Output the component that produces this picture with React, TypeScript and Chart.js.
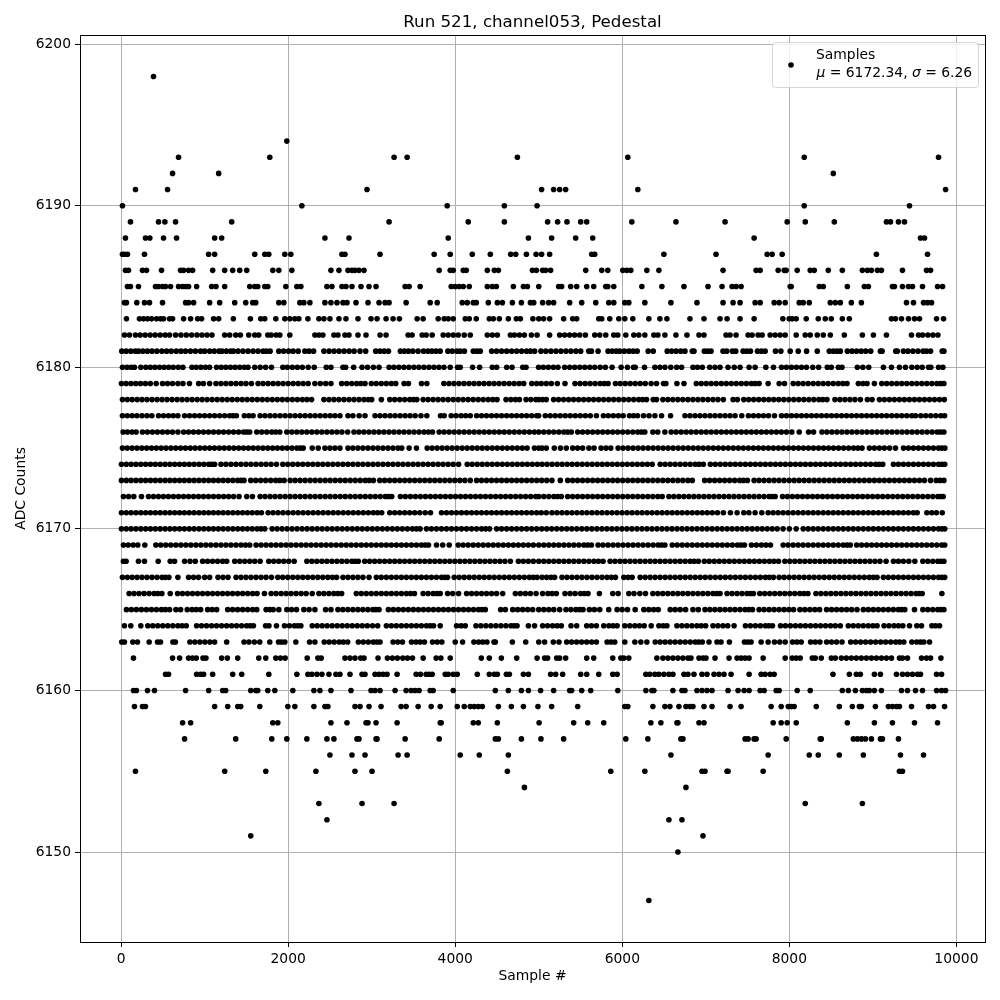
import React, { useEffect, useRef } from "react";
import { Chart, registerables } from "chart.js";

Chart.register(...registerables);

const titleText = "Run 521, channel053, Pedestal";
const xLabel = "Sample #";
const yLabel = "ADC Counts";
const xTicks = [0, 2000, 4000, 6000, 8000, 10000];
const yTicks = [6150, 6160, 6170, 6180, 6190, 6200];
const legendName = "Samples";
const legendMean = "6172.34";
const legendSigma = "6.26";

const s6198 = [388];
const s6194 = [1984];
const s6193 = [688, 1780, 3268, 3424, 4744, 6066, 8178, 9786];
const s6192 = [616, 1168, 8526];
const s6191 = [172, 556, 2944, 5034, 5178, 5250, 5322, 6186, 9870];
const s6190 = [16, 2164, 3904, 4588, 4980, 8178, 9438];
const s6189 = [112, 448, 524, 652, 1324, 3208, 4156, 4588, 5106, 5226, 5338, 5502, 5574, 6114, 6642, 7230, 7974, 8190, 8538, 9162, 9210, 9306, 9378];
const s6188 = [52, 292, 344, 508, 664, 1120, 1204, 2440, 2728, 3916, 4876, 5154, 5442, 5646, 7578, 9570, 9618];
const s6187 = [16, 40, 76, 280, 1048, 1120, 1600, 1720, 1768, 1960, 2032, 2644, 2680, 3100, 3748, 3940, 4204, 4420, 4664, 4724, 4852, 4968, 5034, 5130, 5634, 5670, 6498, 7122, 7734, 7794, 7914, 9042, 9654];
const s6186 = [52, 88, 256, 304, 484, 712, 748, 808, 856, 1096, 1240, 1336, 1420, 1504, 1816, 1888, 2044, 2512, 2608, 2716, 2764, 2800, 2848, 2908, 3808, 3940, 3976, 4096, 4132, 4384, 4468, 4516, 4924, 4972, 5046, 5082, 5142, 5562, 5754, 5826, 6006, 6054, 6102, 6294, 6438, 7206, 7602, 7650, 7866, 7938, 7962, 8094, 8250, 8298, 8466, 8634, 8874, 8934, 8982, 9054, 9102, 9354, 9642, 9690];
const s6185 = [76, 112, 208, 412, 448, 496, 532, 592, 688, 736, 772, 808, 904, 1084, 1136, 1240, 1540, 1600, 1636, 1720, 1756, 1972, 2104, 2152, 2464, 2524, 2644, 2692, 2764, 2872, 2968, 3052, 3400, 3448, 3580, 3952, 4000, 4048, 4096, 4168, 4384, 4444, 4492, 4696, 4816, 4864, 5000, 5238, 5274, 5382, 5454, 5574, 5658, 5802, 5826, 5898, 6234, 6474, 6738, 7026, 7194, 7314, 7362, 7422, 8010, 8022, 8358, 8406, 8694, 8898, 8946, 9234, 9258, 9354, 9426, 9474, 9594, 9774, 9834];
const s6184 = [40, 64, 188, 280, 340, 496, 772, 808, 868, 1060, 1180, 1360, 1492, 1576, 1612, 1888, 1948, 2140, 2188, 2260, 2440, 2512, 2584, 2656, 2704, 2812, 2956, 3088, 3160, 3208, 3412, 3700, 3784, 4084, 4144, 4216, 4252, 4396, 4504, 4564, 4684, 4792, 4900, 4940, 5046, 5118, 5178, 5370, 5514, 5682, 5838, 5898, 6030, 6078, 6270, 6582, 6894, 7206, 7326, 7410, 7590, 7650, 7818, 7878, 7950, 8118, 8166, 8238, 8490, 8550, 8610, 8742, 8862, 9402, 9486, 9606, 9654, 9702];
const s6183 = [64, 220, 268, 316, 364, 424, 472, 508, 580, 616, 748, 832, 916, 964, 1108, 1168, 1344, 1548, 1672, 1720, 1852, 1960, 2020, 2080, 2128, 2236, 2368, 2428, 2500, 2608, 2692, 2836, 2992, 3064, 3172, 3256, 3332, 3544, 3616, 3796, 3868, 3916, 3976, 4120, 4168, 4252, 4408, 4456, 4528, 4636, 4732, 4780, 4930, 5000, 5058, 5130, 5298, 5406, 5454, 5718, 5754, 5850, 5958, 6030, 6126, 6318, 6450, 6534, 6810, 6978, 7170, 7254, 7410, 7578, 7922, 7998, 8034, 8082, 8202, 8346, 8430, 8502, 8634, 8718, 9222, 9270, 9342, 9426, 9498, 9558, 9762, 9846];
const s6182 = [40, 100, 172, 228, 288, 348, 408, 468, 528, 580, 652, 716, 780, 844, 908, 968, 1028, 1088, 1240, 1300, 1372, 1428, 1528, 1600, 1648, 1756, 1796, 1856, 1900, 2020, 2320, 2368, 2416, 2548, 2596, 2680, 2728, 2836, 2932, 3100, 3172, 3436, 3484, 3604, 3652, 3724, 3856, 3916, 3976, 4036, 4108, 4180, 4384, 4444, 4504, 4660, 4708, 4768, 4828, 4912, 4980, 5130, 5250, 5310, 5370, 5430, 5490, 5558, 5670, 5730, 5802, 5898, 5946, 6042, 6138, 6198, 6270, 6378, 6426, 6510, 6642, 6774, 6918, 6978, 7242, 7290, 7362, 7506, 7554, 7626, 7674, 7770, 7830, 7890, 7950, 8082, 8190, 8250, 8334, 8406, 8490, 8658, 8874, 9006, 9162, 9462, 9546, 9594, 9658, 9718, 9778];
const s6181 = [8, 60, 115, 170, 208, 260, 315, 370, 428, 488, 545, 600, 660, 715, 770, 830, 890, 952, 1000, 1060, 1115, 1172, 1208, 1260, 1312, 1344, 1400, 1460, 1520, 1580, 1640, 1700, 1740, 1784, 1888, 1945, 2005, 2060, 2120, 2200, 2250, 2304, 2428, 2490, 2550, 2610, 2670, 2730, 2790, 2860, 2928, 3048, 3100, 3150, 3200, 3344, 3392, 3440, 3492, 3555, 3620, 3672, 3720, 3770, 3820, 3912, 3965, 4020, 4060, 4110, 4216, 4260, 4300, 4436, 4495, 4555, 4615, 4675, 4735, 4795, 4855, 4900, 4950, 5026, 5085, 5145, 5205, 5265, 5325, 5385, 5445, 5502, 5598, 5630, 5710, 5830, 5880, 5930, 5970, 6025, 6080, 6130, 6178, 6310, 6370, 6538, 6590, 6645, 6700, 6750, 6838, 6858, 6982, 7022, 7062, 7206, 7250, 7318, 7358, 7446, 7490, 7534, 7618, 7665, 7710, 7834, 7898, 8010, 8106, 8206, 8334, 8478, 8525, 8570, 8610, 8694, 8750, 8805, 8860, 8915, 8974, 9090, 9110, 9274, 9292, 9366, 9420, 9480, 9540, 9602, 9640, 9690, 9830, 9850];
const s6180 = [16, 70, 120, 160, 236, 296, 350, 405, 460, 515, 570, 625, 685, 740, 848, 900, 955, 1010, 1060, 1144, 1200, 1255, 1310, 1365, 1420, 1475, 1520, 1600, 1665, 1730, 1800, 1936, 1990, 2050, 2110, 2170, 2240, 2312, 2456, 2512, 2656, 2688, 2784, 2884, 2950, 3020, 3088, 3208, 3265, 3325, 3385, 3445, 3505, 3565, 3625, 3685, 3745, 3805, 3865, 3940, 4028, 4060, 4208, 4292, 4444, 4496, 4616, 4680, 4808, 4848, 4998, 5055, 5115, 5175, 5230, 5310, 5370, 5430, 5490, 5550, 5610, 5670, 5735, 5798, 5878, 5986, 6062, 6134, 6155, 6266, 6390, 6450, 6510, 6580, 6650, 6710, 6846, 6900, 6958, 7046, 7110, 7170, 7266, 7340, 7410, 7518, 7590, 7718, 7810, 7906, 7965, 8025, 8085, 8145, 8205, 8280, 8350, 8454, 8502, 8586, 8630, 8814, 8880, 8950, 9126, 9222, 9318, 9390, 9466, 9530, 9590, 9666, 9694, 9786, 9838];
const s6179 = [4, 60, 118, 175, 232, 290, 350, 420, 496, 555, 615, 680, 740, 818, 928, 985, 1060, 1136, 1195, 1255, 1315, 1375, 1435, 1495, 1560, 1640, 1700, 1760, 1820, 1880, 1940, 2000, 2060, 2120, 2180, 2240, 2320, 2385, 2450, 2512, 2640, 2700, 2760, 2820, 2870, 2920, 2996, 3055, 3115, 3175, 3235, 3288, 3388, 3440, 3596, 3660, 3864, 3925, 3985, 4045, 4105, 4165, 4225, 4285, 4345, 4405, 4465, 4525, 4585, 4645, 4705, 4765, 4820, 4916, 4975, 5030, 5090, 5150, 5222, 5314, 5434, 5495, 5555, 5615, 5675, 5735, 5785, 5830, 5918, 5975, 6035, 6095, 6155, 6215, 6275, 6345, 6410, 6494, 6522, 6654, 6738, 6886, 6945, 7005, 7065, 7125, 7185, 7245, 7305, 7365, 7425, 7485, 7545, 7590, 7638, 7746, 7878, 7942, 8046, 8105, 8165, 8225, 8285, 8345, 8405, 8465, 8525, 8585, 8640, 8690, 8826, 8880, 8930, 9018, 9106, 9165, 9225, 9285, 9345, 9405, 9465, 9525, 9585, 9645, 9705, 9765, 9810, 9850];
const s6178 = [16, 75, 133, 192, 250, 310, 370, 430, 490, 550, 610, 670, 730, 790, 850, 910, 970, 1030, 1090, 1150, 1210, 1270, 1330, 1390, 1450, 1510, 1570, 1630, 1690, 1750, 1810, 1870, 1930, 1990, 2050, 2110, 2170, 2225, 2280, 2428, 2488, 2548, 2608, 2668, 2728, 2788, 2848, 2908, 2960, 3000, 3116, 3216, 3275, 3335, 3395, 3455, 3500, 3540, 3616, 3675, 3735, 3795, 3855, 3915, 3975, 4035, 4095, 4155, 4215, 4275, 4335, 4395, 4450, 4500, 4608, 4665, 4720, 4768, 4848, 4905, 4965, 5000, 5045, 5090, 5178, 5237, 5297, 5357, 5417, 5477, 5537, 5597, 5657, 5717, 5777, 5837, 5897, 5957, 6017, 6077, 6137, 6197, 6245, 6290, 6370, 6410, 6486, 6545, 6605, 6665, 6725, 6785, 6845, 6905, 6965, 7025, 7085, 7145, 7210, 7326, 7378, 7454, 7513, 7573, 7633, 7693, 7753, 7813, 7873, 7933, 7993, 8053, 8113, 8173, 8233, 8293, 8353, 8400, 8450, 8546, 8605, 8665, 8725, 8785, 8850, 8934, 8990, 9078, 9137, 9197, 9257, 9317, 9377, 9437, 9497, 9557, 9617, 9677, 9737, 9797, 9855];
const s6177 = [16, 75, 133, 190, 250, 310, 368, 448, 508, 568, 625, 680, 760, 820, 880, 940, 1000, 1060, 1120, 1180, 1240, 1300, 1340, 1380, 1476, 1530, 1580, 1664, 1723, 1783, 1843, 1903, 1963, 2023, 2083, 2143, 2203, 2263, 2323, 2383, 2443, 2503, 2560, 2620, 2716, 2775, 2850, 2920, 3040, 3100, 3160, 3220, 3280, 3340, 3400, 3460, 3520, 3590, 3660, 3824, 3868, 3952, 4010, 4070, 4125, 4180, 4256, 4315, 4375, 4435, 4495, 4555, 4615, 4675, 4735, 4795, 4855, 4915, 4975, 4998, 5078, 5137, 5197, 5257, 5317, 5377, 5437, 5497, 5557, 5617, 5690, 5774, 5833, 5893, 5953, 6010, 6086, 6135, 6182, 6254, 6320, 6390, 6470, 6578, 6750, 6810, 6870, 6930, 6990, 7050, 7110, 7170, 7230, 7290, 7350, 7430, 7510, 7570, 7630, 7690, 7750, 7822, 7906, 7965, 8025, 8085, 8145, 8205, 8265, 8325, 8385, 8445, 8505, 8565, 8625, 8685, 8745, 8805, 8865, 8925, 8985, 9045, 9105, 9165, 9225, 9285, 9345, 9405, 9465, 9510, 9574, 9633, 9693, 9753, 9813, 9858];
const s6176 = [24, 75, 130, 180, 256, 315, 375, 435, 495, 555, 615, 680, 748, 807, 867, 927, 987, 1047, 1107, 1167, 1227, 1287, 1347, 1407, 1467, 1505, 1540, 1624, 1683, 1743, 1803, 1850, 1900, 1984, 2043, 2103, 2163, 2223, 2283, 2343, 2403, 2463, 2523, 2583, 2643, 2712, 2788, 2847, 2907, 2967, 3027, 3087, 3147, 3207, 3267, 3327, 3387, 3447, 3507, 3567, 3627, 3680, 3728, 3808, 3867, 3927, 3987, 4047, 4107, 4167, 4227, 4287, 4347, 4407, 4467, 4527, 4587, 4647, 4707, 4767, 4827, 4887, 4947, 5000, 5060, 5120, 5180, 5240, 5300, 5345, 5390, 5466, 5525, 5585, 5645, 5705, 5765, 5825, 5885, 5945, 6005, 6065, 6125, 6185, 6230, 6270, 6366, 6425, 6510, 6586, 6645, 6705, 6765, 6825, 6885, 6945, 7005, 7065, 7125, 7185, 7245, 7305, 7365, 7425, 7485, 7545, 7605, 7665, 7725, 7785, 7845, 7905, 7965, 8030, 8118, 8230, 8290, 8390, 8449, 8509, 8569, 8629, 8689, 8749, 8809, 8869, 8929, 8989, 9049, 9109, 9169, 9229, 9289, 9349, 9409, 9469, 9529, 9589, 9649, 9709, 9769, 9810, 9850];
const s6175 = [16, 74, 132, 190, 248, 306, 364, 422, 480, 538, 596, 654, 712, 770, 828, 886, 944, 1002, 1060, 1118, 1176, 1234, 1292, 1350, 1408, 1466, 1524, 1582, 1640, 1698, 1756, 1814, 1872, 1930, 1988, 2046, 2104, 2145, 2180, 2288, 2360, 2440, 2500, 2560, 2620, 2716, 2775, 2835, 2895, 2955, 3015, 3075, 3135, 3195, 3255, 3315, 3360, 3448, 3536, 3664, 3723, 3783, 3843, 3903, 3963, 4023, 4083, 4143, 4203, 4263, 4323, 4383, 4443, 4503, 4563, 4623, 4683, 4743, 4803, 4860, 4948, 5000, 5040, 5090, 5186, 5260, 5330, 5406, 5465, 5525, 5600, 5662, 5746, 5805, 5862, 5950, 6009, 6069, 6129, 6189, 6249, 6309, 6369, 6429, 6489, 6549, 6609, 6669, 6729, 6789, 6849, 6909, 6969, 7029, 7089, 7149, 7209, 7269, 7329, 7389, 7449, 7509, 7569, 7629, 7689, 7749, 7809, 7869, 7929, 7989, 8049, 8109, 8169, 8229, 8289, 8349, 8409, 8469, 8529, 8589, 8649, 8709, 8769, 8820, 8870, 8958, 9017, 9077, 9137, 9200, 9270, 9366, 9425, 9485, 9545, 9605, 9665, 9725, 9785, 9825, 9862];
const s6174 = [4, 62, 120, 178, 236, 294, 352, 410, 468, 526, 584, 642, 700, 758, 816, 874, 932, 990, 1048, 1085, 1120, 1196, 1255, 1315, 1375, 1435, 1495, 1555, 1615, 1675, 1735, 1795, 1860, 1936, 1995, 2055, 2115, 2175, 2235, 2295, 2355, 2415, 2475, 2535, 2595, 2655, 2715, 2775, 2835, 2895, 2955, 3015, 3075, 3135, 3195, 3255, 3315, 3375, 3435, 3495, 3555, 3615, 3675, 3735, 3795, 3855, 3915, 3975, 4040, 4144, 4203, 4263, 4323, 4383, 4443, 4503, 4563, 4623, 4683, 4743, 4803, 4863, 4923, 4983, 5040, 5100, 5160, 5220, 5280, 5340, 5400, 5460, 5520, 5580, 5640, 5700, 5760, 5820, 5880, 5940, 6000, 6060, 6120, 6180, 6240, 6300, 6358, 6454, 6513, 6573, 6633, 6693, 6753, 6813, 6873, 6920, 6970, 7054, 7113, 7173, 7233, 7293, 7353, 7413, 7473, 7533, 7593, 7653, 7713, 7773, 7833, 7893, 7953, 8013, 8073, 8133, 8193, 8253, 8313, 8373, 8433, 8493, 8553, 8613, 8673, 8733, 8793, 8853, 8913, 8973, 9033, 9075, 9118, 9246, 9305, 9365, 9425, 9485, 9545, 9605, 9665, 9725, 9785, 9825, 9860];
const s6173 = [4, 62, 120, 178, 236, 294, 352, 410, 468, 526, 584, 642, 700, 758, 816, 874, 932, 990, 1048, 1106, 1164, 1222, 1280, 1338, 1396, 1435, 1472, 1552, 1611, 1671, 1731, 1791, 1851, 1900, 1952, 2024, 2083, 2143, 2203, 2263, 2323, 2383, 2443, 2503, 2563, 2623, 2683, 2743, 2803, 2863, 2923, 2970, 3020, 3096, 3155, 3215, 3275, 3335, 3395, 3455, 3515, 3575, 3635, 3695, 3755, 3815, 3875, 3935, 3995, 4055, 4115, 4180, 4256, 4315, 4375, 4435, 4495, 4555, 4615, 4675, 4735, 4795, 4855, 4915, 4975, 5035, 5095, 5158, 5258, 5346, 5405, 5465, 5525, 5585, 5645, 5705, 5765, 5825, 5885, 5945, 6005, 6065, 6125, 6185, 6245, 6305, 6365, 6425, 6485, 6545, 6605, 6665, 6725, 6785, 6838, 6986, 7045, 7105, 7165, 7225, 7285, 7345, 7405, 7450, 7498, 7578, 7637, 7697, 7757, 7817, 7877, 7937, 7997, 8057, 8117, 8177, 8237, 8297, 8357, 8417, 8477, 8537, 8597, 8657, 8717, 8777, 8837, 8897, 8957, 9017, 9077, 9137, 9197, 9257, 9317, 9377, 9437, 9497, 9557, 9617, 9690, 9758, 9805, 9850];
const s6172 = [28, 90, 152, 244, 328, 387, 447, 507, 567, 627, 687, 747, 807, 867, 927, 987, 1047, 1107, 1167, 1227, 1287, 1347, 1412, 1504, 1572, 1664, 1723, 1783, 1843, 1903, 1963, 2023, 2083, 2143, 2203, 2263, 2323, 2383, 2443, 2503, 2563, 2623, 2683, 2743, 2803, 2863, 2923, 2983, 3043, 3103, 3163, 3200, 3240, 3344, 3403, 3463, 3523, 3583, 3643, 3703, 3763, 3823, 3883, 3943, 4003, 4063, 4123, 4183, 4243, 4303, 4363, 4423, 4483, 4543, 4603, 4663, 4723, 4783, 4843, 4903, 4963, 5000, 5060, 5120, 5180, 5225, 5270, 5346, 5405, 5465, 5525, 5585, 5645, 5705, 5765, 5825, 5885, 5945, 6005, 6065, 6125, 6185, 6245, 6305, 6365, 6425, 6478, 6558, 6617, 6677, 6737, 6797, 6857, 6917, 6977, 7037, 7097, 7157, 7217, 7277, 7337, 7397, 7457, 7517, 7577, 7637, 7697, 7757, 7795, 7830, 7918, 7977, 8037, 8097, 8157, 8217, 8277, 8337, 8397, 8457, 8517, 8577, 8637, 8697, 8757, 8817, 8877, 8937, 8997, 9057, 9117, 9177, 9237, 9297, 9357, 9417, 9477, 9537, 9597, 9657, 9717, 9777, 9810, 9842];
const s6171 = [4, 62, 120, 178, 236, 294, 352, 410, 468, 526, 584, 642, 700, 758, 816, 874, 932, 990, 1048, 1106, 1164, 1222, 1280, 1338, 1396, 1454, 1512, 1570, 1628, 1680, 1760, 1819, 1879, 1939, 1999, 2059, 2119, 2179, 2239, 2299, 2359, 2419, 2479, 2539, 2599, 2659, 2719, 2779, 2839, 2899, 2959, 3019, 3070, 3120, 3216, 3275, 3335, 3395, 3455, 3515, 3575, 3640, 3704, 3836, 3895, 3955, 4015, 4075, 4135, 4195, 4255, 4315, 4375, 4435, 4495, 4555, 4615, 4675, 4735, 4795, 4855, 4915, 4975, 5030, 5090, 5158, 5217, 5277, 5337, 5397, 5457, 5517, 5577, 5637, 5697, 5757, 5817, 5877, 5937, 5997, 6057, 6117, 6177, 6237, 6297, 6357, 6417, 6477, 6537, 6597, 6657, 6717, 6777, 6837, 6897, 6957, 7017, 7077, 7140, 7210, 7294, 7374, 7454, 7515, 7590, 7670, 7746, 7805, 7865, 7925, 7985, 8045, 8105, 8165, 8225, 8285, 8345, 8405, 8465, 8525, 8585, 8645, 8705, 8765, 8825, 8885, 8945, 9005, 9065, 9125, 9185, 9245, 9305, 9365, 9425, 9485, 9530, 9646, 9705, 9760, 9830];
const s6170 = [4, 62, 120, 178, 236, 294, 352, 410, 468, 526, 584, 642, 700, 758, 816, 874, 932, 990, 1048, 1106, 1164, 1222, 1280, 1338, 1396, 1454, 1512, 1570, 1628, 1675, 1720, 1808, 1867, 1927, 1987, 2047, 2107, 2167, 2227, 2287, 2347, 2407, 2467, 2527, 2587, 2647, 2707, 2767, 2827, 2887, 2947, 3007, 3067, 3127, 3187, 3247, 3307, 3367, 3427, 3487, 3535, 3580, 3656, 3715, 3775, 3835, 3895, 3955, 4015, 4075, 4135, 4195, 4255, 4315, 4365, 4412, 4496, 4555, 4615, 4675, 4735, 4795, 4855, 4915, 4975, 5035, 5095, 5155, 5215, 5275, 5335, 5395, 5455, 5515, 5575, 5635, 5695, 5755, 5815, 5875, 5935, 5995, 6055, 6115, 6175, 6235, 6295, 6355, 6415, 6475, 6535, 6595, 6655, 6715, 6775, 6835, 6895, 6955, 7015, 7075, 7135, 7195, 7255, 7315, 7375, 7435, 7495, 7555, 7615, 7675, 7735, 7795, 7855, 7925, 8000, 8082, 8166, 8225, 8285, 8345, 8405, 8465, 8525, 8585, 8645, 8705, 8765, 8825, 8885, 8945, 9005, 9065, 9125, 9185, 9245, 9305, 9365, 9425, 9485, 9545, 9605, 9665, 9725, 9785, 9825, 9860];
const s6169 = [28, 85, 145, 200, 284, 416, 475, 535, 595, 655, 715, 775, 835, 895, 955, 1015, 1075, 1135, 1195, 1255, 1315, 1375, 1435, 1490, 1540, 1616, 1675, 1735, 1795, 1855, 1915, 1975, 2035, 2095, 2155, 2215, 2275, 2335, 2395, 2455, 2515, 2575, 2635, 2695, 2755, 2815, 2875, 2935, 2995, 3055, 3115, 3175, 3235, 3295, 3355, 3415, 3475, 3535, 3595, 3640, 3680, 3776, 3850, 3928, 4036, 4095, 4155, 4215, 4275, 4335, 4395, 4455, 4515, 4575, 4635, 4695, 4755, 4815, 4875, 4935, 5000, 5060, 5120, 5180, 5240, 5300, 5360, 5420, 5480, 5540, 5585, 5630, 5710, 5769, 5829, 5889, 5949, 6009, 6069, 6129, 6189, 6249, 6309, 6369, 6429, 6470, 6510, 6598, 6657, 6717, 6777, 6837, 6897, 6957, 7017, 7077, 7137, 7197, 7257, 7317, 7377, 7420, 7462, 7546, 7605, 7665, 7720, 7774, 7926, 7985, 8045, 8105, 8165, 8225, 8285, 8345, 8405, 8465, 8525, 8585, 8645, 8690, 8730, 8806, 8865, 8925, 8985, 9045, 9105, 9165, 9225, 9285, 9345, 9405, 9465, 9525, 9585, 9645, 9705, 9765, 9825, 9860];
const s6168 = [28, 60, 208, 280, 444, 588, 640, 760, 825, 888, 976, 1035, 1095, 1155, 1215, 1264, 1360, 1420, 1480, 1540, 1600, 1664, 1768, 1827, 1887, 1947, 2007, 2072, 2224, 2283, 2343, 2403, 2463, 2523, 2583, 2643, 2703, 2763, 2800, 2840, 2916, 2975, 3035, 3095, 3155, 3215, 3275, 3335, 3395, 3455, 3515, 3575, 3635, 3695, 3755, 3815, 3875, 3935, 3995, 4055, 4115, 4175, 4235, 4295, 4355, 4415, 4475, 4535, 4595, 4660, 4756, 4815, 4875, 4935, 5000, 5060, 5120, 5180, 5240, 5300, 5360, 5420, 5480, 5540, 5600, 5660, 5715, 5770, 5854, 5913, 5973, 6033, 6093, 6153, 6213, 6273, 6333, 6393, 6453, 6513, 6573, 6633, 6693, 6753, 6813, 6860, 6910, 6982, 7041, 7101, 7161, 7221, 7281, 7341, 7401, 7461, 7521, 7581, 7641, 7701, 7761, 7815, 7870, 7946, 8005, 8065, 8125, 8185, 8245, 8305, 8365, 8425, 8485, 8545, 8605, 8665, 8725, 8785, 8845, 8905, 8965, 9025, 9085, 9158, 9246, 9305, 9365, 9430, 9502, 9598, 9657, 9717, 9777, 9815, 9850];
const s6167 = [16, 75, 133, 192, 250, 310, 370, 430, 490, 530, 572, 680, 808, 867, 927, 1000, 1060, 1160, 1220, 1280, 1376, 1435, 1495, 1555, 1615, 1675, 1735, 1800, 1876, 1935, 1995, 2055, 2115, 2175, 2235, 2295, 2355, 2415, 2475, 2530, 2580, 2656, 2715, 2775, 2835, 2895, 2968, 3056, 3115, 3175, 3235, 3295, 3355, 3415, 3475, 3535, 3595, 3655, 3715, 3775, 3835, 3875, 3908, 3988, 4047, 4107, 4167, 4227, 4287, 4347, 4407, 4467, 4527, 4587, 4647, 4707, 4767, 4827, 4887, 4935, 4980, 5040, 5094, 5145, 5190, 5278, 5337, 5397, 5457, 5517, 5577, 5637, 5697, 5757, 5817, 5870, 5918, 6018, 6070, 6118, 6214, 6273, 6333, 6393, 6453, 6513, 6573, 6633, 6693, 6753, 6813, 6873, 6933, 6993, 7053, 7113, 7173, 7233, 7293, 7353, 7413, 7473, 7533, 7593, 7653, 7713, 7760, 7810, 7878, 7937, 7997, 8057, 8117, 8177, 8237, 8297, 8357, 8417, 8477, 8537, 8597, 8657, 8717, 8777, 8837, 8897, 8957, 9005, 9050, 9126, 9185, 9245, 9305, 9365, 9425, 9485, 9545, 9605, 9665, 9725, 9785, 9825, 9860];
const s6166 = [96, 155, 215, 275, 335, 395, 440, 488, 588, 676, 735, 795, 855, 915, 975, 1035, 1095, 1155, 1215, 1275, 1335, 1395, 1455, 1515, 1575, 1628, 1716, 1796, 1855, 1915, 1975, 2035, 2095, 2155, 2215, 2288, 2368, 2427, 2487, 2547, 2595, 2640, 2816, 2875, 2935, 2995, 3055, 3115, 3175, 3235, 3295, 3355, 3415, 3465, 3512, 3616, 3675, 3735, 3780, 3820, 3908, 3970, 4040, 4136, 4195, 4255, 4315, 4375, 4435, 4495, 4568, 4720, 4780, 4840, 4900, 4968, 5046, 5110, 5160, 5210, 5314, 5375, 5435, 5500, 5545, 5590, 5726, 5886, 5950, 6078, 6140, 6210, 6278, 6366, 6425, 6485, 6545, 6605, 6665, 6725, 6785, 6845, 6905, 6965, 7025, 7085, 7130, 7170, 7254, 7313, 7373, 7433, 7493, 7535, 7570, 7646, 7705, 7765, 7825, 7885, 7945, 8005, 8065, 8125, 8175, 8222, 8318, 8377, 8437, 8497, 8557, 8617, 8677, 8737, 8797, 8857, 8917, 8977, 9037, 9097, 9157, 9217, 9277, 9337, 9397, 9457, 9517, 9555, 9590, 9826];
const s6165 = [64, 123, 183, 243, 303, 363, 423, 483, 530, 580, 656, 712, 792, 850, 900, 952, 1036, 1090, 1144, 1276, 1335, 1395, 1455, 1515, 1575, 1624, 1736, 1780, 1820, 1888, 1984, 2040, 2100, 2188, 2250, 2320, 2448, 2512, 2596, 2655, 2715, 2775, 2835, 2895, 2955, 3015, 3050, 3088, 3200, 3259, 3319, 3379, 3439, 3499, 3559, 3619, 3679, 3739, 3799, 3859, 3919, 3979, 4039, 4099, 4159, 4219, 4279, 4320, 4360, 4544, 4600, 4688, 4747, 4807, 4867, 4927, 5000, 5060, 5120, 5180, 5250, 5326, 5385, 5445, 5490, 5530, 5606, 5665, 5730, 5838, 5938, 5998, 6062, 6154, 6258, 6317, 6375, 6430, 6574, 6633, 6693, 6758, 6846, 6910, 6990, 7049, 7109, 7169, 7229, 7289, 7349, 7409, 7469, 7515, 7558, 7638, 7697, 7757, 7817, 7877, 7937, 7995, 8050, 8126, 8185, 8245, 8305, 8362, 8446, 8505, 8565, 8625, 8685, 8745, 8810, 8886, 8945, 9005, 9065, 9125, 9185, 9245, 9305, 9345, 9382, 9498, 9598, 9657, 9717, 9777, 9815, 9850];
const s6164 = [40, 116, 236, 320, 379, 439, 499, 559, 619, 679, 730, 780, 904, 963, 1023, 1083, 1143, 1203, 1263, 1323, 1383, 1443, 1503, 1545, 1584, 1730, 1770, 1860, 1956, 2015, 2075, 2115, 2152, 2288, 2347, 2407, 2467, 2527, 2587, 2647, 2707, 2767, 2827, 2887, 2947, 3010, 3072, 3176, 3235, 3295, 3355, 3415, 3475, 3535, 3595, 3655, 3700, 3740, 3820, 4016, 4070, 4120, 4248, 4307, 4367, 4427, 4487, 4547, 4607, 4667, 4705, 4740, 4876, 4950, 5046, 5105, 5165, 5220, 5270, 5386, 5454, 5574, 5630, 5690, 5778, 5840, 5890, 5938, 6030, 6090, 6150, 6205, 6262, 6346, 6438, 6490, 6534, 6654, 6713, 6773, 6833, 6893, 6945, 6998, 7086, 7145, 7205, 7262, 7338, 7474, 7533, 7593, 7653, 7713, 7755, 7798, 7894, 7953, 8013, 8073, 8133, 8193, 8253, 8313, 8373, 8433, 8493, 8550, 8610, 8706, 8765, 8825, 8885, 8945, 9000, 9050, 9134, 9193, 9253, 9305, 9358, 9438, 9526, 9582, 9706, 9750, 9798];
const s6163 = [8, 40, 140, 196, 336, 436, 472, 620, 650, 824, 883, 943, 1003, 1063, 1120, 1264, 1472, 1530, 1595, 1660, 1780, 1884, 1920, 1960, 2092, 2256, 2320, 2432, 2491, 2551, 2611, 2660, 2712, 2840, 2899, 2959, 3019, 3060, 3100, 3256, 3312, 3368, 3476, 3530, 3580, 3632, 3728, 3785, 3840, 4000, 4088, 4224, 4280, 4330, 4380, 4464, 4480, 4684, 4844, 5000, 5070, 5174, 5242, 5334, 5393, 5453, 5513, 5573, 5633, 5690, 5818, 5865, 5910, 6030, 6150, 6222, 6294, 6394, 6453, 6513, 6573, 6633, 6693, 6753, 6813, 6873, 6915, 6958, 7038, 7134, 7182, 7282, 7462, 7502, 7542, 7662, 7746, 7822, 7885, 7950, 8038, 8090, 8142, 8254, 8310, 8366, 8446, 8505, 8565, 8630, 8734, 8793, 8853, 8913, 8973, 9033, 9093, 9153, 9213, 9273, 9320, 9370, 9466, 9525, 9570, 9610, 9678];
const s6162 = [148, 616, 700, 808, 856, 900, 980, 1016, 1204, 1272, 1396, 1648, 1732, 1852, 1908, 1964, 2228, 2356, 2396, 2680, 2740, 2800, 2868, 2908, 3076, 3188, 3248, 3308, 3372, 3428, 3488, 3616, 3772, 3828, 3940, 4312, 4408, 4552, 4736, 4980, 5070, 5106, 5214, 5250, 5322, 5574, 5658, 5886, 5982, 6018, 6078, 6414, 6486, 6546, 6606, 6666, 6726, 6786, 6822, 6918, 6966, 7002, 7110, 7278, 7374, 7422, 7470, 7518, 7686, 7950, 8034, 8082, 8130, 8274, 8310, 8382, 8502, 8550, 8622, 8682, 8742, 8802, 8862, 8922, 8982, 9042, 9102, 9162, 9222, 9318, 9354, 9414, 9582, 9642, 9690, 9814];
const s6161 = [532, 568, 904, 952, 988, 1096, 1336, 1444, 1768, 2104, 2236, 2284, 2344, 2404, 2488, 2572, 2620, 2740, 2884, 2920, 3040, 3088, 3136, 3184, 3304, 3532, 3584, 3652, 3688, 3724, 3880, 3916, 3976, 4024, 4264, 4408, 4468, 4504, 4612, 4648, 4816, 4876, 5142, 5202, 5286, 5502, 5574, 5718, 5886, 5938, 6282, 6330, 6390, 6438, 6498, 6558, 6606, 6738, 6786, 6858, 6954, 7014, 7098, 7158, 7218, 7302, 7518, 7662, 7710, 7770, 7818, 8522, 8718, 8802, 8850, 9018, 9090, 9282, 9354, 9414, 9474, 9534, 9570, 9762, 9822];
const s6160 = [148, 184, 316, 400, 772, 1048, 1216, 1252, 1552, 1612, 1636, 1756, 1840, 2056, 2308, 2380, 2512, 2752, 2992, 3040, 3100, 3280, 3412, 3472, 3520, 3568, 3700, 3736, 3976, 4480, 4636, 4792, 4876, 5022, 5178, 5370, 5394, 5514, 5622, 5946, 6282, 6354, 6378, 6606, 6714, 6750, 6894, 6954, 7014, 7074, 7266, 7386, 7458, 7518, 7650, 7698, 7842, 7878, 8094, 8250, 8634, 8706, 8790, 8874, 8922, 8958, 9018, 9102, 9342, 9414, 9510, 9594, 9762, 9822, 9870];
const s6159 = [160, 256, 292, 1120, 1276, 1396, 1432, 1660, 1996, 2080, 2308, 2440, 2476, 2800, 2860, 2968, 3112, 3352, 3412, 3556, 3712, 3820, 4024, 4108, 4180, 4228, 4276, 4324, 4516, 4672, 4816, 4990, 5154, 5466, 6030, 6066, 6366, 6510, 6570, 6678, 6762, 6810, 6846, 6978, 7074, 7290, 7422, 7782, 7902, 7986, 8022, 8058, 8322, 8598, 8754, 8838, 8862, 9030, 9186, 9234, 9282, 9318, 9462, 9666, 9726, 9858];
const s6158 = [736, 832, 1816, 1876, 2512, 2704, 2932, 2956, 3052, 3304, 3820, 3832, 4216, 4276, 4504, 5004, 5418, 5586, 5778, 6342, 6462, 6654, 6666, 6918, 6978, 7806, 7902, 7974, 8082, 8694, 9018, 9234, 9498, 9774];
const s6157 = [760, 1372, 1804, 1984, 2224, 2464, 2548, 2824, 2848, 3052, 3064, 3400, 3808, 4480, 4516, 4792, 5026, 5298, 6042, 6306, 6702, 6726, 7470, 7506, 7578, 7602, 7962, 8370, 8382, 8766, 8814, 8862, 8910, 8982, 9090, 9114, 9306];
const s6156 = [2500, 2764, 2920, 3316, 3424, 4060, 4288, 4636, 6582, 7746, 8238, 8346, 8598, 8886, 9330, 9606];
const s6155 = [172, 1240, 1732, 2332, 2800, 3004, 4624, 5862, 6270, 6954, 6990, 7254, 7266, 7686, 9318, 9354];
const s6154 = [4828, 6762];
const s6153 = [2368, 2884, 3268, 8190, 8874];
const s6152 = [2464, 6558, 6714];
const s6151 = [1552, 6966];
const s6150 = [6666];
const s6147 = [6318];

const levels: [number, number[]][] = [
  [6198, s6198], [6194, s6194], [6193, s6193], [6192, s6192], [6191, s6191], [6190, s6190],
  [6189, s6189], [6188, s6188], [6187, s6187], [6186, s6186], [6185, s6185], [6184, s6184],
  [6183, s6183], [6182, s6182], [6181, s6181], [6180, s6180], [6179, s6179], [6178, s6178],
  [6177, s6177], [6176, s6176], [6175, s6175], [6174, s6174], [6173, s6173], [6172, s6172],
  [6171, s6171], [6170, s6170], [6169, s6169], [6168, s6168], [6167, s6167], [6166, s6166],
  [6165, s6165], [6164, s6164], [6163, s6163], [6162, s6162], [6161, s6161], [6160, s6160],
  [6159, s6159], [6158, s6158], [6157, s6157], [6156, s6156], [6155, s6155], [6154, s6154],
  [6153, s6153], [6152, s6152], [6151, s6151], [6150, s6150], [6147, s6147],
];

const FONT = '"DejaVu Sans"';
const FS = 13.89;

const framePlugin = {
  id: "frameAndLegend",
  afterDraw(chart: any) {
    const { ctx, chartArea: a } = chart;
    ctx.save();
    ctx.strokeStyle = "#000";
    ctx.lineWidth = 1;
    ctx.strokeRect(a.left + 0.5, a.top + 0.5, a.right - a.left, a.bottom - a.top);

    ctx.fillStyle = "#000";
    ctx.textBaseline = "alphabetic";
    ctx.textAlign = "center";
    ctx.font = `16.67px ${FONT}`;
    ctx.fillText(titleText, (a.left + a.right) / 2, 27);

    const bx = 772.5, by = 42.5, bw = 206, bh = 45;
    ctx.beginPath();
    ctx.roundRect(bx, by, bw, bh, 3);
    ctx.fillStyle = "rgba(255,255,255,0.8)";
    ctx.fill();
    ctx.strokeStyle = "rgba(204,204,204,0.8)";
    ctx.stroke();

    ctx.fillStyle = "#000";
    ctx.beginPath();
    ctx.arc(791, 65, 2.8, 0, Math.PI * 2);
    ctx.fill();

    ctx.textAlign = "left";
    ctx.font = `${FS}px ${FONT}`;
    ctx.fillText(legendName, 816, 59);
    let x = 816.5;
    const y = 77;
    const parts: [string, boolean][] = [
      ["μ", true], [` = ${legendMean}, `, false], ["σ", true], [` = ${legendSigma}`, false],
    ];
    for (const [t, it] of parts) {
      ctx.font = `${it ? "italic " : ""}${FS}px ${FONT}`;
      ctx.fillText(t, x, y);
      x += ctx.measureText(t).width;
    }
    ctx.restore();
  },
};

export default function App() {
  const ref = useRef<HTMLCanvasElement>(null);
  useEffect(() => {
    const points = levels.flatMap(([v, xs]) => xs.map((x) => ({ x, y: v })));
    const axisTick = { color: "#000", font: { family: FONT, size: FS }, padding: 4, maxRotation: 0, autoSkip: false, callback: (v: any) => String(v) };
    const chart = new Chart(ref.current!, {
      type: "scatter",
      data: {
        datasets: [{ label: legendName, data: points, backgroundColor: "#000", borderWidth: 0, pointRadius: 2.8, pointHoverRadius: 2.8 }],
      },
      plugins: [framePlugin],
      options: {
        animation: false,
        responsive: false,
        events: [],
        layout: { padding: { top: 35, right: 15, bottom: 0, left: 0 } },
        plugins: { legend: { display: false }, title: { display: false }, tooltip: { enabled: false } },
        scales: {
          x: {
            type: "linear", min: -492, max: 10342,
            afterBuildTicks: (s: any) => { s.ticks = xTicks.map((value) => ({ value })); },
            afterFit: (s: any) => { s.height = 58; },
            ticks: axisTick,
            grid: { color: "#b0b0b0", lineWidth: 1, tickColor: "#000", tickLength: 5 },
            border: { color: "#000" },
            title: { display: true, text: xLabel, color: "#000", font: { family: FONT, size: FS }, padding: { top: 0, bottom: 15 } },
          },
          y: {
            type: "linear", min: 6144.43, max: 6200.567,
            afterBuildTicks: (s: any) => { s.ticks = yTicks.map((value) => ({ value })); },
            afterFit: (s: any) => { s.width = 80; },
            ticks: axisTick,
            grid: { color: "#b0b0b0", lineWidth: 1, tickColor: "#000", tickLength: 5 },
            border: { color: "#000" },
            title: { display: true, text: yLabel, color: "#000", font: { family: FONT, size: FS }, padding: { top: 13, bottom: 0 } },
          },
        },
      },
    } as any);
    return () => chart.destroy();
  }, []);
  return (
    <div style={{ position: "absolute", left: 0, top: 0, width: 1000, height: 1000, background: "#fff" }}>
      <canvas ref={ref} width={1000} height={1000} style={{ display: "block" }} />
    </div>
  );
}
